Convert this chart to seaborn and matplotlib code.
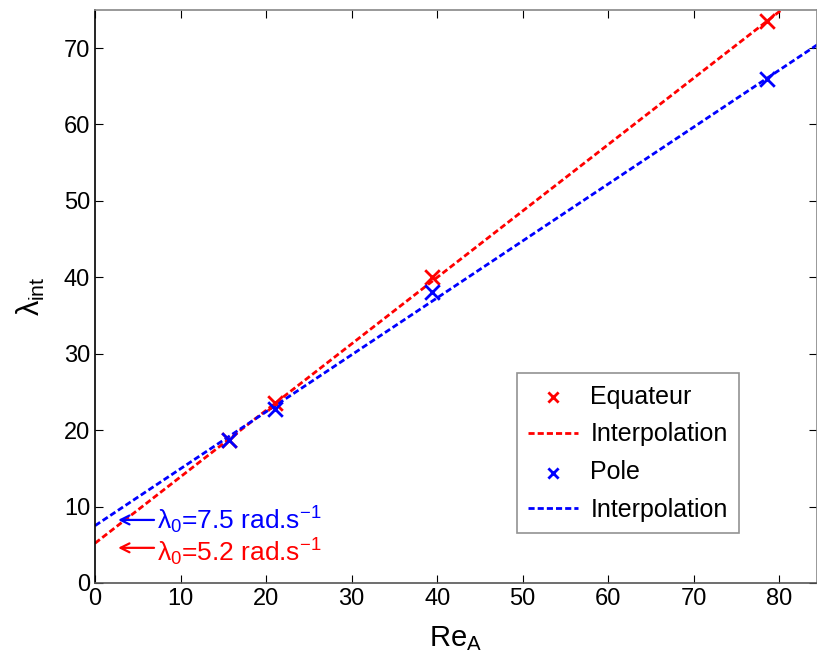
import matplotlib
matplotlib.use("Agg")
import matplotlib.pyplot as plt
import seaborn as sns

# measured points (Re_A, lambda_int)
re_a = [15.7, 21.0, 39.4, 78.5]
lam_equateur = [18.7, 23.5, 40.0, 73.5]
lam_pole = [18.7, 22.8, 38.1, 65.9]

# interpolation lines (end points)
fit_x = [0, 86]
fit_equateur = [5.2, 80.0]
fit_pole = [7.5, 71.6]

sns.set_style("ticks")
plt.rcParams['font.family'] = ['Liberation Sans', 'DejaVu Sans']
plt.rcParams['mathtext.fontset'] = 'custom'
plt.rcParams['mathtext.rm'] = 'Liberation Sans'
plt.rcParams['mathtext.it'] = 'Liberation Sans'

fig = plt.figure(figsize=(8.17, 6.58), dpi=100)
ax = fig.add_axes([0.1163, 0.114, 0.8837, 0.871])

dash = (0, (2.2, 1.1))
sns.scatterplot(x=re_a, y=lam_equateur, marker='x', s=110, color='red',
                linewidth=2, label='Equateur', ax=ax, zorder=3)
sns.lineplot(x=fit_x, y=fit_equateur, color='red', linestyle=dash, lw=2,
             label='Interpolation', ax=ax)
sns.scatterplot(x=re_a, y=lam_pole, marker='x', s=110, color='blue',
                linewidth=2, label='Pole', ax=ax, zorder=3)
sns.lineplot(x=fit_x, y=fit_pole, color='blue', linestyle=dash, lw=2,
             label='Interpolation', ax=ax)

ax.set_xlim(0, 84.4)
ax.set_ylim(0, 75)
ax.set_xticks(range(0, 81, 10))
ax.set_yticks(range(0, 71, 10))
ax.tick_params(direction='in', length=6, labelsize=17, top=True, right=True,
               colors='black', labelcolor='black')
for s in ax.spines.values():
    s.set_visible(True)
    s.set_linewidth(1.2)
ax.spines['left'].set_color('black')
ax.spines['top'].set_color('#888888')
ax.spines['right'].set_color('#888888')
ax.spines['bottom'].set_color('#555555')

ax.set_xlabel(r'Re$_\mathrm{A}$', fontsize=21, labelpad=10, color='black')
ax.set_ylabel(r'$\lambda_\mathrm{int}$', fontsize=22, labelpad=12, color='black')

# lambda_0 annotations with arrows pointing to the intercepts
ax.annotate('', xy=(2.7, 8.25), xytext=(6.9, 8.25),
            arrowprops=dict(arrowstyle='->', color='blue', lw=1.6,
                            mutation_scale=16, shrinkA=0, shrinkB=0))
ax.text(7.2, 7.0, r'$\lambda_0$=7.5 rad.s$^{-1}$', color='blue',
        fontsize=19, ha='left', va='baseline')
ax.annotate('', xy=(2.7, 4.6), xytext=(6.9, 4.6),
            arrowprops=dict(arrowstyle='->', color='red', lw=1.6,
                            mutation_scale=16, shrinkA=0, shrinkB=0))
ax.text(7.2, 2.8, r'$\lambda_0$=5.2 rad.s$^{-1}$', color='red',
        fontsize=19, ha='left', va='baseline')

leg = ax.legend(loc='lower left', bbox_to_anchor=(0.584, 0.087), fontsize=18,
                frameon=True, fancybox=False, edgecolor='#777777',
                handlelength=2.0, borderpad=0.45, labelspacing=0.55,
                handletextpad=0.5, markerscale=0.7, borderaxespad=0)
leg.get_frame().set_linewidth(1.2)
for t in leg.get_texts():
    t.set_color('black')

fig.savefig('out.png', dpi=100)
